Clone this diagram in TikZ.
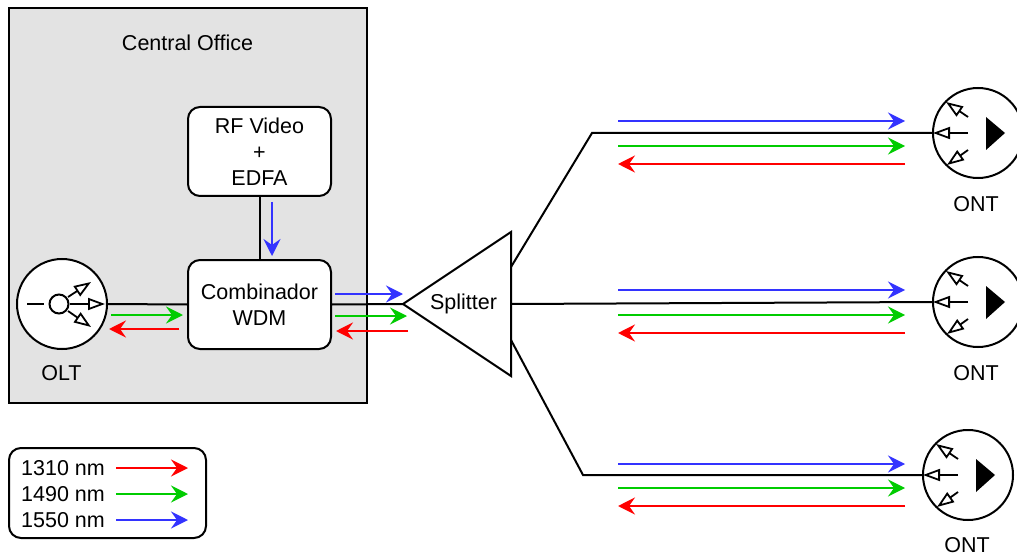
\documentclass[tikz,border=0pt]{standalone}
\usepackage{fontspec}
\setmainfont{Liberation Sans}
\usetikzlibrary{arrows.meta}
\definecolor{cored}{HTML}{FF0000}
\definecolor{cogreen}{HTML}{00CC00}
\definecolor{coblue}{HTML}{3333FF}
\definecolor{cogray}{HTML}{E3E3E3}
\tikzset{
  line/.style={draw=black,line width=2pt},
  box/.style={line,fill=white,rounded corners=12pt,minimum width=143pt,align=center,inner sep=0pt},
  lbl/.style={font=\fontsize{21.5}{26}\selectfont,inner sep=0pt,align=center},
  round/.style={line,circle,fill=white,inner sep=0pt,minimum size=90pt},
  wave/.style={line width=2pt,-{Stealth[length=17pt,width=17pt,inset=6pt]}},
  red wave/.style={wave,cored},
  green wave/.style={wave,cogreen},
  blue wave/.style={wave,coblue},
  open arrow/.style={line width=1.8pt,-{Triangle[open,length=17pt,width=12pt,line width=1.8pt,fill=white]}},
}
\newcommand{\ontmark}[1]{%
  \begin{scope}[shift={(#1)}]
    \coordinate (p1) at (-10,0);  \coordinate (q1) at (-45,0);
    \coordinate (p2) at (-10,-16); \coordinate (q2) at (-32,-31);
    \coordinate (p3) at (-10,17); \coordinate (q3) at (-31,32);
    \draw[open arrow] (p1) -- (q1);
    \draw[open arrow] (p2) -- (q2);
    \draw[open arrow] (p3) -- (q3);
    \fill[black] (8,-16) -- (27,0) -- (8,17) -- cycle;
  \end{scope}}
\newcommand{\waves}[4]{%
  \coordinate (bl) at (#1,#2); \coordinate (br) at (905,#2);
  \coordinate (gl) at (#1,#3); \coordinate (gr) at (905,#3);
  \coordinate (rl) at (#1,#4); \coordinate (rr) at (905,#4);
  \draw[blue wave] (bl) -- (br);
  \draw[green wave] (gl) -- (gr);
  \draw[red wave] (rr) -- (rl);}
\begin{document}
\begin{tikzpicture}[x=1pt,y=-1pt]
\useasboundingbox (0,0) rectangle (1017,556);
\fill[white] (0,0) rectangle (1017,556);
% central office
\node[line,fill=cogray,minimum width=358pt,minimum height=395pt,inner sep=0pt] (co) at (188,205.5) {};
\node[lbl] (cot) at (187.5,43) {Central Office};
% boxes
\node[box,minimum height=89pt] (rf) at (259.5,151.5) {};
\node[lbl] (rft) at (259.5,152) {RF Video\\+\\EDFA};
\node[box,minimum height=89pt] (wdm) at (259.5,304.5) {};
\node[lbl] (wdmt) at (259.5,304.5) {Combinador\\WDM};
% connections in the CO
\node[round] (olt) at (62,304) {};
\draw[line] (olt.east) -- (wdm.west);
\draw[line] (rf.south) -- (wdm.north);
\coordinate (oa) at (70,304); \coordinate (ob) at (105,304);
\coordinate (oc) at (68,297); \coordinate (od) at (91,282);
\coordinate (oe) at (68,311); \coordinate (of) at (91,327);
\coordinate (og) at (27,304); \coordinate (oh) at (44,304);
\draw[line width=2pt] (og) -- (oh);
\draw[open arrow] (oa) -- (ob);
\draw[open arrow] (oc) -- (od);
\draw[open arrow] (oe) -- (of);
\node[line,circle,fill=white,inner sep=0pt,minimum size=19pt] (hub) at (59,304) {};
\node[lbl] (oltt) at (61.5,373.5) {OLT};
% splitter
\coordinate (sa) at (403,304); \coordinate (sb) at (511,232); \coordinate (sc) at (511,376);
\draw[line,line join=miter] (wdm.east) -- (sa);
\draw[line,fill=white,line join=miter] (sa) -- (sb) -- (sc) -- cycle;
\node[lbl] (split) at (463.5,304) {Splitter};
% ONTs
\node[round] (o1) at (978,133) {};
\node[round] (o2) at (978,302) {};
\node[round] (o3) at (968,475) {};
\coordinate (s1) at (511,267); \coordinate (k1) at (592,133);
\coordinate (s2) at (511,304);
\coordinate (s3) at (511,340); \coordinate (k3) at (583,475);
\draw[line,line join=miter] (s1) -- (k1) -- (o1.west);
\draw[line] (s2) -- (o2.west);
\draw[line,line join=miter] (s3) -- (k3) -- (o3.west);
\ontmark{978,133}
\ontmark{978,302}
\ontmark{968,475}
\node[lbl] (l1) at (976,204.5) {ONT};
\node[lbl] (l2) at (976,373.5) {ONT};
\node[lbl] (l3) at (967,545.5) {ONT};
% wavelengths
\waves{618}{121}{146}{164}
\waves{618}{290}{315}{333}
\waves{618}{464}{488}{506}
\coordinate (a1) at (335,294); \coordinate (a2) at (403,294);
\coordinate (a3) at (335,316); \coordinate (a4) at (407,316);
\coordinate (a5) at (408,331); \coordinate (a6) at (336,331);
\draw[blue wave] (a1) -- (a2);
\draw[green wave] (a3) -- (a4);
\draw[red wave] (a5) -- (a6);
\coordinate (a7) at (111,315); \coordinate (a8) at (183,315);
\coordinate (a9) at (179,329); \coordinate (a10) at (109,329);
\draw[green wave] (a7) -- (a8);
\draw[red wave] (a9) -- (a10);
\coordinate (a11) at (272,202); \coordinate (a12) at (272,256);
\draw[blue wave] (a11) -- (a12);
% legend
\node[line,fill=white,rounded corners=12pt,minimum width=197pt,minimum height=90pt,inner sep=0pt] (leg) at (107.5,493) {};
\node[lbl,anchor=west] (t1) at (21,468) {1310 nm};
\node[lbl,anchor=west] (t2) at (21,494) {1490 nm};
\node[lbl,anchor=west] (t3) at (21,520) {1550 nm};
\coordinate (b1) at (116,468); \coordinate (b2) at (188,468);
\coordinate (b3) at (116,494); \coordinate (b4) at (188,494);
\coordinate (b5) at (116,520); \coordinate (b6) at (188,520);
\draw[red wave] (b1) -- (b2);
\draw[green wave] (b3) -- (b4);
\draw[blue wave] (b5) -- (b6);
\end{tikzpicture}
\end{document}
